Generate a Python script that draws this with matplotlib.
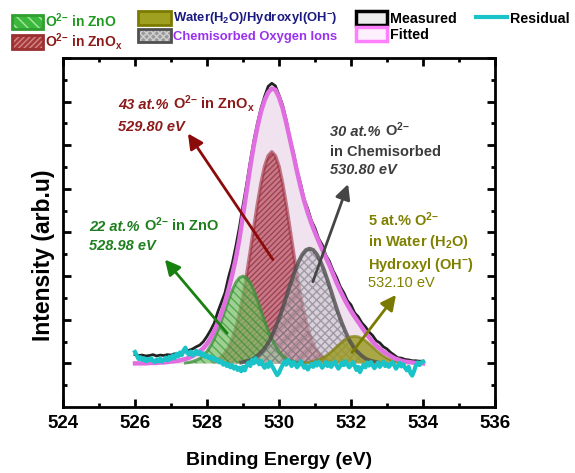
import numpy as np
import matplotlib
matplotlib.use("Agg")
import matplotlib.pyplot as plt
from matplotlib.patches import Patch
from matplotlib.lines import Line2D
from matplotlib.legend_handler import HandlerTuple

plt.rcParams['font.family'] = ['Liberation Sans', 'DejaVu Sans']
plt.rcParams['mathtext.fontset'] = 'custom'
plt.rcParams['mathtext.rm'] = 'Liberation Sans:bold'
plt.rcParams['mathtext.bf'] = 'Liberation Sans:bold'
plt.rcParams['mathtext.it'] = 'Liberation Sans:italic:bold'
plt.rcParams['mathtext.default'] = 'rm'
plt.rcParams['hatch.linewidth'] = 1.0

# ---- data ----
# fitted components (intensity, arb. units) on 0.1 eV grids
e_zno = np.round(np.arange(527.4, 530.61, 0.1), 2)
i_zno = [0.01, 0.02, 0.04, 0.07, 0.11, 0.18, 0.27, 0.40, 0.56, 0.75, 0.97, 1.21, 1.45, 1.67, 1.85, 1.96, 2.00,
         1.96, 1.85, 1.67, 1.45, 1.21, 0.97, 0.75, 0.56, 0.40, 0.27, 0.18, 0.11, 0.07, 0.04, 0.02, 0.01]

e_znox = np.round(np.arange(528.2, 531.41, 0.1), 2)
i_znox = [0.05, 0.09, 0.15, 0.24, 0.37, 0.56, 0.82, 1.15, 1.55, 2.03, 2.56, 3.11, 3.65, 4.13, 4.52, 4.76, 4.85,
          4.76, 4.52, 4.13, 3.65, 3.11, 2.56, 2.03, 1.55, 1.15, 0.82, 0.56, 0.37, 0.24, 0.15, 0.09, 0.05]

e_chem = np.round(np.arange(528.95, 532.76, 0.1), 2)
i_chem = [0.02, 0.04, 0.06, 0.09, 0.14, 0.21, 0.29, 0.40, 0.54, 0.72, 0.92, 1.14, 1.39, 1.65, 1.90, 2.14, 2.34,
          2.50, 2.60, 2.63, 2.60, 2.50, 2.34, 2.14, 1.90, 1.65, 1.39, 1.14, 0.92, 0.72, 0.54, 0.40, 0.29, 0.21,
          0.14, 0.09, 0.06, 0.04, 0.02]

e_water = np.round(np.arange(530.6, 533.61, 0.1), 2)
i_water = [0.01, 0.01, 0.02, 0.03, 0.06, 0.08, 0.12, 0.17, 0.23, 0.30, 0.38, 0.45, 0.52, 0.57, 0.61, 0.62,
           0.61, 0.57, 0.52, 0.45, 0.38, 0.30, 0.23, 0.17, 0.12, 0.08, 0.06, 0.03, 0.02, 0.01, 0.01]

# envelope and measured spectrum, 526-534 eV
e_full = np.round(np.arange(526.0, 534.01, 0.1), 2)
i_fitted = [0.00, 0.00, 0.00, 0.00, 0.01, 0.01, 0.01, 0.02, 0.02, 0.03,
            0.04, 0.05, 0.06, 0.08, 0.10, 0.13, 0.17, 0.22, 0.28, 0.35,
            0.45, 0.58, 0.74, 0.93, 1.15, 1.40, 1.70, 2.03, 2.40, 2.85,
            3.40, 3.95, 4.50, 5.00, 5.42, 5.77, 6.03, 6.21, 6.30, 6.27,
            6.10, 5.85, 5.52, 5.15, 4.78, 4.40, 4.04, 3.72, 3.45, 3.21,
            3.00, 2.80, 2.61, 2.43, 2.25, 2.05, 1.85, 1.67, 1.50, 1.34,
            1.20, 1.07, 0.95, 0.83, 0.71, 0.60, 0.50, 0.41, 0.34, 0.27,
            0.22, 0.17, 0.12, 0.09, 0.06, 0.04, 0.03, 0.02, 0.01, 0.01,
            0.00]
i_measured = [0.20, 0.18, 0.19, 0.17, 0.18, 0.20, 0.17, 0.19, 0.18, 0.20,
              0.19, 0.22, 0.20, 0.25, 0.27, 0.30, 0.33, 0.38, 0.42, 0.50,
              0.62, 0.76, 0.92, 1.18, 1.40, 1.62, 1.98, 2.28, 2.68, 3.12,
              3.62, 4.10, 4.62, 5.10, 5.50, 5.85, 6.12, 6.35, 6.42, 6.36,
              6.15, 5.92, 5.58, 5.16, 4.84, 4.43, 4.12, 3.76, 3.54, 3.27,
              3.10, 2.86, 2.72, 2.48, 2.34, 2.13, 1.97, 1.76, 1.62, 1.44,
              1.34, 1.16, 1.07, 0.93, 0.84, 0.72, 0.64, 0.52, 0.47, 0.38,
              0.33, 0.25, 0.19, 0.13, 0.12, 0.09, 0.08, 0.06, 0.06, 0.05,
              0.05]

# residual, 0.05 eV steps
e_resid = np.round(np.arange(526.0, 534.001, 0.05), 2)
i_resid = [0.26, 0.18, 0.10, 0.14, 0.08, 0.12, 0.05, 0.10, 0.07, 0.12,
           0.06, 0.03, 0.09, 0.05, 0.11, 0.04, 0.08, 0.13, 0.07, 0.15,
           0.10, 0.18, 0.12, 0.22, 0.16, 0.25, 0.19, 0.30, 0.36, 0.24,
           0.20, 0.27, 0.18, 0.24, 0.29, 0.21, 0.26, 0.19, 0.23, 0.15,
           0.18, 0.12, 0.16, 0.10, 0.13, 0.06, 0.09, 0.02, 0.05, -0.03,
           0.01, -0.06, -0.02, -0.09, -0.04, -0.12, -0.07, -0.15, -0.10, -0.18,
           -0.08, -0.16, -0.05, 0.02, -0.06, 0.08, 0.00, 0.12, 0.04, -0.02,
           0.06, -0.04, -0.10, -0.02, -0.08, 0.03, -0.05, -0.12, -0.20, -0.27,
           -0.22, -0.12, -0.04, 0.04, -0.03, 0.08, 0.02, -0.06, 0.03, -0.02,
           -0.09, -0.04, 0.05, -0.02, -0.10, -0.05, -0.14, -0.07, -0.01, -0.08,
           0.02, -0.05, 0.04, -0.03, -0.10, -0.04, 0.03, -0.06, 0.01, -0.08,
           -0.02, 0.04, -0.05, -0.12, -0.06, 0.02, -0.04, 0.05, -0.03, -0.09,
           -0.04, 0.03, -0.05, -0.15, -0.08, -0.20, -0.10, -0.03, -0.09, 0.02,
           -0.05, 0.03, -0.04, -0.11, -0.05, 0.02, -0.08, -0.02, 0.04, -0.06,
           -0.01, -0.08, -0.03, 0.03, -0.04, -0.12, -0.06, 0.01, -0.07, -0.02,
           -0.10, -0.16, -0.08, -0.22, -0.28, -0.18, -0.05, 0.02, -0.04, 0.02,
           0.04]

# ---- figure ----
fig = plt.figure(figsize=(5.75, 4.73), dpi=100)
ax = fig.add_axes([63 / 575, 1 - 407 / 473, 432 / 575, 349 / 473])
ax.set_xlim(524, 536)
ax.set_ylim(-1, 7)

# envelope / measured area
ax.fill_between(e_full, 0, i_fitted, color='#f0e2ee', lw=0, zorder=1)

# components
ax.fill_between(e_znox, 0, i_znox, facecolor=(0.72, 0.30, 0.36, 0.70), edgecolor=(0.50, 0.08, 0.15, 0.55),
                hatch='//////', lw=0, zorder=2)
ax.plot(e_znox, i_znox, color=(0.62, 0.18, 0.25, 0.6), lw=2.5, zorder=3)

ax.fill_between(e_zno, 0, i_zno, facecolor=(0.45, 0.78, 0.38, 0.65), edgecolor=(0.15, 0.55, 0.15, 0.6),
                hatch='\\\\\\\\', lw=0, zorder=4)
ax.plot(e_zno, i_zno, color=(0.22, 0.56, 0.22, 0.75), lw=2.2, zorder=5)

ax.fill_between(e_chem, 0, i_chem, facecolor=(0.78, 0.76, 0.80, 0.55), edgecolor=(0.35, 0.35, 0.38, 0.45),
                hatch='xxxx', lw=0, zorder=4)
ax.plot(e_chem, i_chem, color=(0.30, 0.30, 0.30, 0.8), lw=2.8, zorder=5)

ax.fill_between(e_water, 0, i_water, facecolor=(0.60, 0.60, 0.12, 0.80), lw=0, zorder=4)
ax.plot(e_water, i_water, color=(0.50, 0.50, 0.05, 0.7), lw=2.0, zorder=5)

# measured and fitted lines
ax.plot(e_full, i_measured, color='#222222', lw=2.0, zorder=6)
ax.plot(e_full, i_fitted, color='#e06ee0', lw=3.2, zorder=7)
ax.plot(e_resid, i_resid, color='#19c3c8', lw=3.0, zorder=8)

# annotations: lines mixing italic and upright pieces
renderer = fig.canvas.get_renderer()
FS = 10.5
O2 = r'O$^{2{-}}$'


def rich_line(x, y, parts, color, weight='bold'):
    cur = x
    for s, style in parts:
        t = ax.text(cur, y, s, color=color, fontsize=FS, fontweight=weight, fontstyle=style,
                    va='baseline', ha='left', zorder=9)
        bb = t.get_window_extent(renderer)
        cur = ax.transData.inverted().transform((bb.x1 + 4.2, bb.y0))[0]


c_red, c_grn, c_gry, c_olv = '#8c1a1a', '#1f7f1f', '#3c3c3c', '#808000'
rich_line(525.53, 5.84, [('43 at.%', 'italic'), (O2 + r' in ZnO$_{x}$', 'normal')], c_red)
rich_line(525.53, 5.33, [('529.80 eV', 'italic')], c_red)
rich_line(531.42, 5.22, [('30 at.%', 'italic'), (O2, 'normal')], c_gry)
rich_line(531.42, 4.76, [('in Chemisorbed', 'normal')], c_gry)
rich_line(531.42, 4.34, [('530.80 eV', 'italic')], c_gry)
rich_line(524.72, 3.03, [('22 at.%', 'italic'), (O2 + ' in ZnO', 'normal')], c_grn)
rich_line(524.72, 2.61, [('528.98 eV', 'italic')], c_grn)
rich_line(532.47, 3.14, [('5 at.% ' + O2, 'normal')], c_olv)
rich_line(532.47, 2.70, [(r'in Water (H$_{2}$O)', 'normal')], c_olv)
rich_line(532.47, 2.17, [(r'Hydroxyl (OH$^{{-}}$)', 'normal')], c_olv)
rich_line(532.47, 1.76, [('532.10 eV', 'normal')], c_olv, weight='normal')

arrows = [((529.83, 2.38), (527.47, 5.27), '#8b0a0a'),
          ((528.56, 0.69), (526.83, 2.38), '#17800f'),
          ((530.94, 1.87), (531.92, 4.11), '#454545'),
          ((532.03, 0.25), (533.25, 1.57), '#7a7a00')]
for tail, head, col in arrows:
    ax.annotate('', xy=head, xytext=tail, zorder=9,
                arrowprops=dict(arrowstyle='-|>,head_length=0.9,head_width=0.45', color=col, lw=2.0,
                                shrinkA=0, shrinkB=0))

# axes styling
ax.set_xticks(np.arange(524, 537, 2))
ax.set_xticks(np.arange(525, 536, 2), minor=True)
ax.set_yticks(np.arange(0, 8, 1))
ax.set_yticks(np.arange(-0.5, 7, 1), minor=True)
ax.set_yticklabels([])
ax.tick_params(which='both', direction='in', top=True, right=True, width=2)
ax.tick_params(which='major', length=6)
ax.tick_params(which='minor', length=3)
ax.tick_params(axis='x', labelsize=13.5, pad=6)
for lab in ax.get_xticklabels():
    lab.set_fontweight('bold')
for sp in ax.spines.values():
    sp.set_linewidth(2)
ax.set_xlabel('Binding Energy (eV)', fontsize=14, fontweight='bold', labelpad=14)
ax.set_ylabel('Intensity (arb.u)', fontsize=16.5, fontweight='bold')
ax.yaxis.set_label_coords(-0.019, 0.435)

# legends across the top
lkw = dict(loc='upper left', frameon=False, borderpad=0, borderaxespad=0,
           handletextpad=0.2, handler_map={tuple: HandlerTuple(ndivide=1)})

h_zno = (Patch(facecolor='#3cb83c', edgecolor='#a8e8a0', hatch='\\\\\\', lw=0),
         Patch(facecolor='none', edgecolor='#2fa02f', lw=2))
h_znox = (Patch(facecolor='#a83838', edgecolor='#d08888', hatch='//////', lw=0),
          Patch(facecolor='none', edgecolor='#9a3030', lw=2))
h_water = Patch(facecolor='#a0a020', edgecolor='#7a7a00', lw=2)
h_chem = (Patch(facecolor='#9a9a9a', edgecolor='#d0d0d0', hatch='xxxxx', lw=0),
          Patch(facecolor='none', edgecolor='#505050', lw=2))
h_meas = Patch(facecolor='#ececec', edgecolor='black', lw=2.5)
h_fit = Patch(facecolor='#fdf0fd', edgecolor='#ff80ff', lw=2.5)
h_res = Line2D([], [], color='#19c3c8', lw=3)

top = 1 - 11 / 473
lg1 = fig.legend([h_zno, h_znox], [O2 + ' in ZnO', O2 + r' in ZnO$_{x}$'],
                 bbox_to_anchor=(12 / 575, top), prop={'weight': 'bold', 'size': 10},
                 handlelength=2.2, handleheight=1.15, labelspacing=0.1, **lkw)
lg2 = fig.legend([h_water, h_chem], [r'Water(H$_{2}$O)/Hydroxyl(OH$^{{-}}$)', 'Chemisorbed Oxygen Ions'],
                 bbox_to_anchor=(138 / 575, top), prop={'weight': 'bold', 'size': 9.4},
                 handlelength=2.5, handleheight=1.25, labelspacing=0.1, **lkw)
lg3 = fig.legend([h_meas, h_fit], ['Measured', 'Fitted'], bbox_to_anchor=(356 / 575, top),
                 prop={'weight': 'bold', 'size': 10.3}, handlelength=2.2, handleheight=1.1,
                 labelspacing=0.1, **lkw)
lg4 = fig.legend([h_res], ['Residual'], bbox_to_anchor=(476 / 575, top),
                 prop={'weight': 'bold', 'size': 10.3}, handlelength=2.2, handleheight=1.1, **lkw)

for t, c in zip(lg1.get_texts(), ['#1f9a1f', '#8c1a1a']):
    t.set_color(c)
for t, c in zip(lg2.get_texts(), ['#1a1a80', '#9a30f0']):
    t.set_color(c)

fig.savefig('out.png', dpi=100)
